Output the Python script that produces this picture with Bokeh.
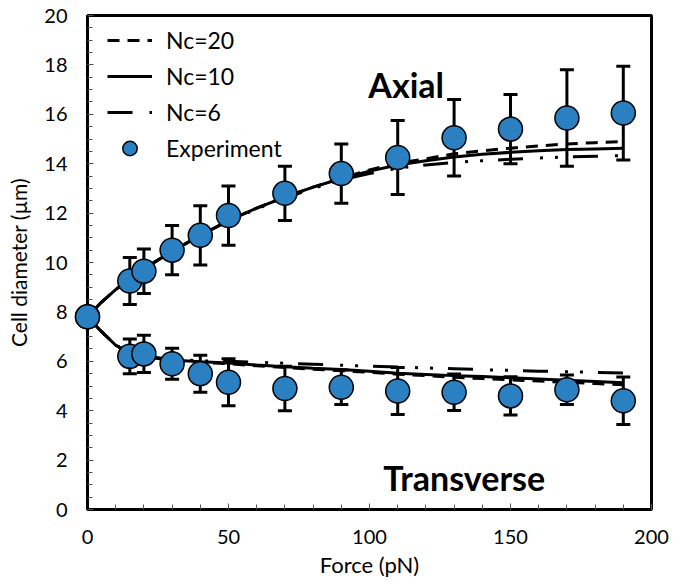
import numpy as np
from bokeh.plotting import figure
from bokeh.models import Range1d, SingleIntervalTicker, Legend, LegendItem
from bokeh.core.properties import value
from bokeh.embed import file_html
from bokeh.resources import INLINE

# ---- data ----
force_exp = [0, 15, 20, 30, 40, 50, 70, 90, 110, 130, 150, 170, 190]
axial_exp = [7.8, 9.25, 9.65, 10.5, 11.1, 11.9, 12.8, 13.6, 14.25, 15.05, 15.4, 15.85, 16.05]
axial_err = [0.0, 0.95, 0.9, 1.0, 1.2, 1.2, 1.1, 1.2, 1.5, 1.55, 1.4, 1.95, 1.9]
trans_exp = [7.8, 6.2, 6.3, 5.9, 5.5, 5.15, 4.9, 4.95, 4.8, 4.75, 4.6, 4.85, 4.4]
trans_err = [0.0, 0.7, 0.75, 0.63, 0.75, 0.95, 0.9, 0.7, 0.95, 0.74, 0.77, 0.6, 0.96]

force_model = [0, 5, 10, 15, 20, 30, 40, 50, 60, 70, 80, 90, 100, 110, 120, 130, 140, 150, 160, 170, 180, 190]
axial_nc20 = [7.8, 8.4, 8.9, 9.35, 9.75, 10.45, 11.1, 11.7, 12.2, 12.65, 13.05, 13.42, 13.75, 14.02, 14.2, 14.4, 14.52, 14.63, 14.72, 14.8, 14.85, 14.9]
axial_nc10 = [7.8, 8.4, 8.9, 9.35, 9.75, 10.45, 11.1, 11.7, 12.2, 12.65, 13.05, 13.4, 13.7, 13.95, 14.12, 14.27, 14.38, 14.46, 14.52, 14.57, 14.6, 14.63]
axial_nc6 = [7.8, 8.4, 8.9, 9.35, 9.75, 10.45, 11.1, 11.68, 12.17, 12.6, 13.0, 13.35, 13.6, 13.82, 13.95, 14.05, 14.12, 14.18, 14.23, 14.27, 14.3, 14.33]
trans_nc20 = [7.8, 7.2, 6.65, 6.35, 6.2, 6.03, 5.95, 5.9, 5.82, 5.75, 5.68, 5.62, 5.55, 5.48, 5.42, 5.35, 5.3, 5.25, 5.2, 5.15, 5.1, 5.05]
trans_nc10 = [7.8, 7.2, 6.65, 6.35, 6.2, 6.05, 5.98, 5.93, 5.85, 5.78, 5.72, 5.67, 5.6, 5.52, 5.47, 5.42, 5.38, 5.33, 5.28, 5.23, 5.18, 5.13]
trans_nc6 = [7.8, 7.2, 6.65, 6.35, 6.2, 6.07, 6.02, 6.0, 5.96, 5.92, 5.88, 5.84, 5.8, 5.77, 5.73, 5.7, 5.66, 5.63, 5.6, 5.58, 5.55, 5.53]

x_ticks_interval = 50
y_ticks_interval = 2

FONT = "Lato"
BLUE = "#2a80c0"

p = figure(width=683, height=584, output_backend="svg", toolbar_location=None,
           x_range=Range1d(0, 200), y_range=Range1d(0, 20),
           min_border_left=87, min_border_right=32, min_border_top=15, min_border_bottom=75)
p.xgrid.visible = False
p.ygrid.visible = False
p.outline_line_color = "black"
p.outline_line_width = 3
p.background_fill_color = "white"
p.border_fill_color = "white"

p.xaxis.ticker = SingleIntervalTicker(interval=x_ticks_interval, num_minor_ticks=5)
p.yaxis.ticker = SingleIntervalTicker(interval=y_ticks_interval, num_minor_ticks=4)
for ax in (p.xaxis[0], p.yaxis[0]):
    ax.axis_line_color = "black"
    ax.axis_line_width = 3
    ax.major_tick_in = 6
    ax.major_tick_out = 0
    ax.minor_tick_in = 5
    ax.minor_tick_out = 0
    ax.major_tick_line_color = "#555555"
    ax.minor_tick_line_color = "#555555"
    ax.major_label_text_font = FONT
    ax.major_label_text_font_size = "20px"
    ax.major_label_text_color = "black"
    ax.axis_label_text_font = FONT
    ax.axis_label_text_font_style = "normal"
    ax.axis_label_text_color = "black"
p.xaxis.axis_label = "Force (pN)"
p.yaxis.axis_label = "Cell diameter (µm)"
p.xaxis.axis_label_text_font_size = "22px"
p.yaxis.axis_label_text_font_size = "21px"
p.xaxis.major_label_standoff = 20
p.yaxis.major_label_standoff = 20
p.xaxis.axis_label_standoff = 4
p.yaxis.axis_label_standoff = 10

# model lines
l20a = p.line(force_model, axial_nc20, line_color="black", line_width=3, line_dash="12 8")
p.line(force_model, trans_nc20, line_color="black", line_width=3, line_dash="12 8")
l10a = p.line(force_model, axial_nc10, line_color="black", line_width=3)
p.line(force_model, trans_nc10, line_color="black", line_width=3)
l6a = p.line(force_model, axial_nc6, line_color="black", line_width=3, line_dash="25 17 3 12 3 15")
p.line(force_model, trans_nc6, line_color="black", line_width=3, line_dash="25 17 3 12 3 15")

# error bars
for ys, es in ((axial_exp, axial_err), (trans_exp, trans_err)):
    ya = np.array(ys)
    ea = np.array(es)
    p.segment(x0=force_exp, y0=ya - ea, x1=force_exp, y1=ya + ea, line_color="black", line_width=3)
    p.scatter(force_exp, ya - ea, marker="dash", size=14, line_color="black", line_width=3)
    p.scatter(force_exp, ya + ea, marker="dash", size=14, line_color="black", line_width=3)

exp_r = p.scatter(force_exp, axial_exp, size=24, fill_color=BLUE, line_color="black", line_width=1.5,
                  level="overlay")
p.scatter(force_exp, trans_exp, size=24, fill_color=BLUE, line_color="black", line_width=1.5,
          level="overlay")

p.text(x=[113], y=[17.2], text=["Axial"], text_font=value(FONT), text_font_style="bold",
       text_font_size="34px", text_align="center", text_baseline="alphabetic", text_color="black")
p.text(x=[133.6], y=[1.3], text=["Transverse"], text_font=value(FONT), text_font_style="bold",
       text_font_size="34px", text_align="center", text_baseline="alphabetic", text_color="black")

legend = Legend(items=[
    LegendItem(label="Nc=20", renderers=[l20a]),
    LegendItem(label="Nc=10", renderers=[l10a]),
    LegendItem(label="Nc=6", renderers=[l6a]),
    LegendItem(label="Experiment", renderers=[exp_r]),
], location=(20, 343))
legend.border_line_color = None
legend.background_fill_alpha = 0
legend.padding = 0
legend.margin = 0
legend.spacing = 0
legend.label_height = 36
legend.glyph_height = 36
legend.glyph_width = 45
legend.label_standoff = 14
legend.label_text_font = FONT
legend.label_text_font_size = "23px"
legend.label_text_color = "black"
p.add_layout(legend, "center")

open("out.html", "w").write(file_html(p, INLINE))
